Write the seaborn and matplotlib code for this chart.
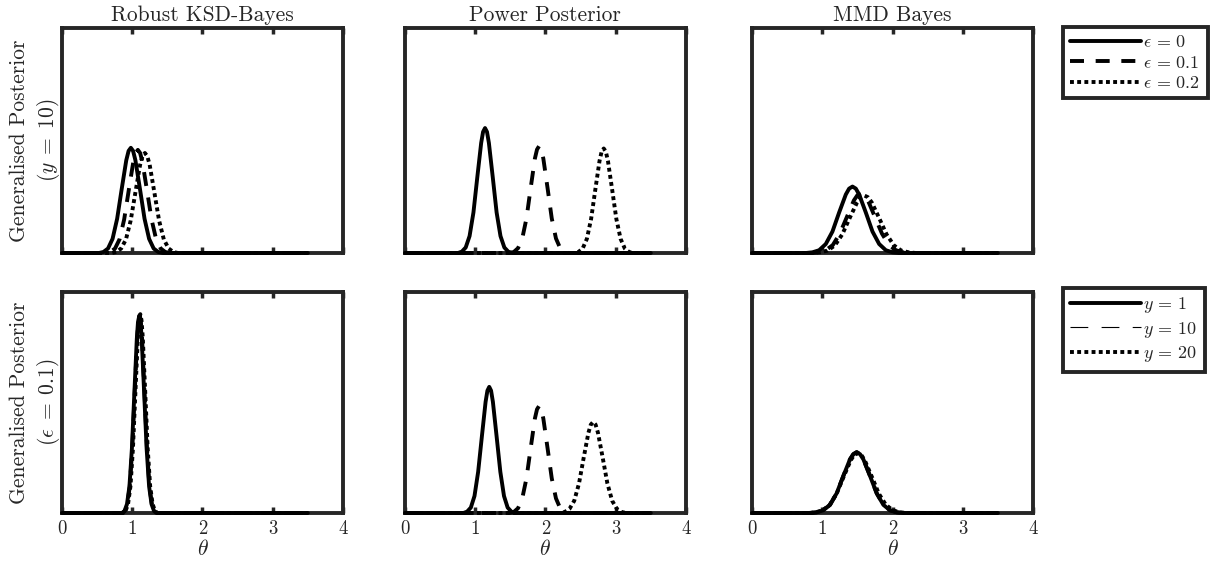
import numpy as np
import pandas as pd
import matplotlib
matplotlib.use("Agg")
import matplotlib.pyplot as plt
import seaborn as sns
from matplotlib.lines import Line2D

# values (theta, density); curve order: solid, dashed, dotted
ksd_eps_theta = [
    [0, 0.525, 0.59, 0.655, 0.72, 0.785, 0.85, 0.915, 0.948, 0.98, 1.012, 1.045, 1.11, 1.175, 1.24, 1.305, 1.37, 1.435, 3.5],
    [0, 0.625, 0.69, 0.755, 0.82, 0.885, 0.95, 1.015, 1.048, 1.08, 1.112, 1.145, 1.21, 1.275, 1.34, 1.405, 1.47, 1.535, 3.5],
    [0, 0.708, 0.775, 0.842, 0.91, 0.978, 1.045, 1.112, 1.146, 1.18, 1.214, 1.248, 1.315, 1.382, 1.45, 1.518, 1.585, 1.652, 3.5],
]
ksd_eps_dens = [
    [0, 0, 0.03, 0.13, 0.41, 0.99, 1.85, 2.68, 2.95, 3.04, 2.95, 2.68, 1.85, 0.99, 0.41, 0.13, 0.03, 0, 0],
    [0, 0, 0.03, 0.13, 0.40, 0.97, 1.81, 2.63, 2.89, 2.98, 2.89, 2.63, 1.81, 0.97, 0.40, 0.13, 0.03, 0, 0],
    [0, 0, 0.03, 0.13, 0.39, 0.94, 1.75, 2.55, 2.80, 2.89, 2.80, 2.55, 1.75, 0.94, 0.39, 0.13, 0.03, 0, 0],
]
pow_eps_theta = [
    [0, 0.755, 0.81, 0.865, 0.92, 0.975, 1.03, 1.085, 1.112, 1.14, 1.168, 1.195, 1.25, 1.305, 1.36, 1.415, 1.47, 1.525, 3.5],
    [0, 1.49, 1.55, 1.61, 1.67, 1.73, 1.79, 1.85, 1.88, 1.91, 1.94, 1.97, 2.03, 2.09, 2.15, 2.21, 2.27, 2.33, 3.5],
    [0, 2.41, 2.47, 2.53, 2.59, 2.65, 2.71, 2.77, 2.80, 2.83, 2.86, 2.89, 2.95, 3.01, 3.07, 3.13, 3.19, 3.25, 3.5],
]
pow_eps_dens = [
    [0, 0, 0.04, 0.16, 0.49, 1.17, 2.19, 3.18, 3.50, 3.61, 3.50, 3.18, 2.19, 1.17, 0.49, 0.16, 0.04, 0, 0],
    [0, 0, 0.03, 0.14, 0.42, 1.00, 1.88, 2.73, 2.99, 3.09, 2.99, 2.73, 1.88, 1.00, 0.42, 0.14, 0.03, 0, 0],
    [0, 0, 0.03, 0.13, 0.41, 0.98, 1.83, 2.66, 2.93, 3.02, 2.93, 2.66, 1.83, 0.98, 0.41, 0.13, 0.03, 0, 0],
]
mmd_eps_theta = [
    [0, 0.765, 0.86, 0.955, 1.05, 1.145, 1.24, 1.335, 1.382, 1.43, 1.478, 1.525, 1.62, 1.715, 1.81, 1.905, 2.0, 2.095, 3.5],
    [0, 0.85, 0.95, 1.05, 1.15, 1.25, 1.35, 1.45, 1.50, 1.55, 1.60, 1.65, 1.75, 1.85, 1.95, 2.05, 2.15, 2.25, 3.5],
    [0, 0.865, 0.97, 1.075, 1.18, 1.285, 1.39, 1.495, 1.548, 1.6, 1.652, 1.705, 1.81, 1.915, 2.02, 2.125, 2.23, 2.335, 3.5],
]
mmd_eps_dens = [
    [0, 0, 0.02, 0.08, 0.26, 0.62, 1.17, 1.69, 1.86, 1.92, 1.86, 1.69, 1.17, 0.62, 0.26, 0.08, 0.02, 0, 0],
    [0, 0, 0.02, 0.08, 0.23, 0.56, 1.04, 1.52, 1.67, 1.72, 1.67, 1.52, 1.04, 0.56, 0.23, 0.08, 0.02, 0, 0],
    [0, 0, 0.02, 0.07, 0.22, 0.54, 1.01, 1.46, 1.61, 1.66, 1.61, 1.46, 1.01, 0.54, 0.22, 0.07, 0.02, 0, 0],
]
ksd_y_theta = [
    [0, 0.855, 0.89, 0.925, 0.96, 0.995, 1.03, 1.065, 1.082, 1.10, 1.118, 1.135, 1.17, 1.205, 1.24, 1.275, 1.31, 1.345, 3.5],
    [0, 0.86, 0.895, 0.93, 0.965, 1.0, 1.035, 1.07, 1.088, 1.105, 1.122, 1.14, 1.175, 1.21, 1.245, 1.28, 1.315, 1.35, 3.5],
    [0, 0.87, 0.905, 0.94, 0.975, 1.01, 1.045, 1.08, 1.098, 1.115, 1.132, 1.15, 1.185, 1.22, 1.255, 1.29, 1.325, 1.36, 3.5],
]
ksd_y_dens = [
    [0, 0, 0.06, 0.26, 0.78, 1.89, 3.52, 5.12, 5.62, 5.80, 5.62, 5.12, 3.52, 1.89, 0.78, 0.26, 0.06, 0, 0],
    [0, 0, 0.06, 0.26, 0.78, 1.89, 3.53, 5.13, 5.64, 5.82, 5.64, 5.13, 3.53, 1.89, 0.78, 0.26, 0.06, 0, 0],
    [0, 0, 0.06, 0.26, 0.79, 1.90, 3.55, 5.16, 5.67, 5.85, 5.67, 5.16, 3.55, 1.90, 0.79, 0.26, 0.06, 0, 0],
]
pow_y_theta = [
    [0, 0.832, 0.885, 0.938, 0.99, 1.042, 1.095, 1.148, 1.174, 1.20, 1.226, 1.252, 1.305, 1.358, 1.41, 1.462, 1.515, 1.568, 3.5],
    [0, 1.49, 1.55, 1.61, 1.67, 1.73, 1.79, 1.85, 1.88, 1.91, 1.94, 1.97, 2.03, 2.09, 2.15, 2.21, 2.27, 2.33, 3.5],
    [0, 2.208, 2.275, 2.342, 2.41, 2.478, 2.545, 2.612, 2.646, 2.68, 2.714, 2.748, 2.815, 2.882, 2.95, 3.018, 3.085, 3.152, 3.5],
]
pow_y_dens = [
    [0, 0, 0.04, 0.16, 0.50, 1.21, 2.25, 3.27, 3.60, 3.71, 3.60, 3.27, 2.25, 1.21, 0.50, 0.16, 0.04, 0, 0],
    [0, 0, 0.03, 0.14, 0.43, 1.02, 1.91, 2.78, 3.05, 3.15, 3.05, 2.78, 1.91, 1.02, 0.43, 0.14, 0.03, 0, 0],
    [0, 0, 0.03, 0.12, 0.36, 0.87, 1.63, 2.36, 2.60, 2.68, 2.60, 2.36, 1.63, 0.87, 0.36, 0.12, 0.03, 0, 0],
]
mmd_y_theta = [
    [0, 0.825, 0.92, 1.015, 1.11, 1.205, 1.30, 1.395, 1.442, 1.49, 1.538, 1.585, 1.68, 1.775, 1.87, 1.965, 2.06, 2.155, 3.5],
    [0, 0.825, 0.92, 1.015, 1.11, 1.205, 1.30, 1.395, 1.442, 1.49, 1.538, 1.585, 1.68, 1.775, 1.87, 1.965, 2.06, 2.155, 3.5],
    [0, 0.805, 0.905, 1.005, 1.105, 1.205, 1.305, 1.405, 1.455, 1.505, 1.555, 1.605, 1.705, 1.805, 1.905, 2.005, 2.105, 2.205, 3.5],
]
mmd_y_dens = [
    [0, 0, 0.02, 0.08, 0.24, 0.58, 1.09, 1.58, 1.73, 1.79, 1.73, 1.58, 1.09, 0.58, 0.24, 0.08, 0.02, 0, 0],
    [0, 0, 0.02, 0.08, 0.24, 0.58, 1.09, 1.58, 1.73, 1.79, 1.73, 1.58, 1.09, 0.58, 0.24, 0.08, 0.02, 0, 0],
    [0, 0, 0.02, 0.08, 0.24, 0.57, 1.07, 1.55, 1.71, 1.76, 1.71, 1.55, 1.07, 0.57, 0.24, 0.08, 0.02, 0, 0],
]

titles = ["Robust KSD-Bayes", "Power Posterior", "MMD Bayes"]
row_labels = ["Generalised Posterior\n$(y \\;=\\; 10)$", "Generalised Posterior\n$(\\epsilon \\;=\\; 0.1)$"]
eps_labels = ["$\\epsilon \\,=\\, 0$", "$\\epsilon \\,=\\, 0.1$", "$\\epsilon \\,=\\, 0.2$"]
y_labels = ["$y \\,=\\, 1$", "$y \\,=\\, 10$", "$y \\,=\\, 20$"]
x_ticks = [0, 1, 2, 3, 4]

sns.set_style("white")
plt.rcParams['font.family'] = 'serif'
plt.rcParams['font.serif'] = ['cmr10']
plt.rcParams['mathtext.fontset'] = 'cm'
plt.rcParams['axes.formatter.use_mathtext'] = True

edge = '#262626'
lw = 2.8
styles = ['-', (0, (3.6, 3.0)), (0, (1.0, 0.85))]

fig = plt.figure(figsize=(12.11, 5.63), dpi=100)
lefts = [0.0512, 0.3344, 0.621]
rows = [(0.5506, 0.3996), (0.0888, 0.3925)]
axes = [[fig.add_axes([l, b, 0.232, h]) for l in lefts] for b, h in rows]

panel_data = [
    [(ksd_eps_theta, ksd_eps_dens), (pow_eps_theta, pow_eps_dens), (mmd_eps_theta, mmd_eps_dens)],
    [(ksd_y_theta, ksd_y_dens), (pow_y_theta, pow_y_dens), (mmd_y_theta, mmd_y_dens)],
]

for r in range(2):
    for c in range(3):
        ax = axes[r][c]
        thetas, dens = panel_data[r][c]
        for k in range(3):
            df = pd.DataFrame({'theta': thetas[k], 'density': dens[k]})
            sns.lineplot(data=df, x='theta', y='density', ax=ax, color='black',
                         lw=lw, linestyle=styles[k], clip_on=False, zorder=3)
        ax.set_xlim(0, 4)
        ax.set_ylim(0, 6.5)
        ax.set_xticks(x_ticks)
        ax.set_yticks([])
        ax.tick_params(axis='x', direction='in', top=True, bottom=True, length=4,
                       width=2.5, color=edge, labelsize=13.5, pad=5)
        for s in ax.spines.values():
            s.set_linewidth(lw)
            s.set_color(edge)
        if r == 0:
            ax.set_title(titles[c], fontsize=15.5, pad=5)
            ax.set_xticklabels([])
            ax.set_xlabel('')
        else:
            ax.set_xticklabels([str(t) for t in x_ticks])
            ax.set_xlabel('$\\theta$', fontsize=15.5, labelpad=1)
        if c == 0:
            ax.set_ylabel(row_labels[r], fontsize=15.5, labelpad=0, linespacing=1.3)
        else:
            ax.set_ylabel('')

h_top = [Line2D([], [], color='black', lw=lw, linestyle=s) for s in styles]
h_bot = [Line2D([], [], color='black', lw=lw, linestyle=styles[0]),
         Line2D([], [], color='black', lw=0.8, linestyle=(0, (16, 12))),
         Line2D([], [], color='black', lw=lw, linestyle=styles[2])]

for ax, handles, labels, anchor in [(axes[0][2], h_top, eps_labels, (1.107, 1.005)),
                                    (axes[1][2], h_bot, y_labels, (1.107, 1.018))]:
    leg = ax.legend(handles, labels, loc='upper left', bbox_to_anchor=anchor,
                    frameon=True, fancybox=False, framealpha=1, edgecolor=edge,
                    fontsize=13, handlelength=3.9, handletextpad=0.15,
                    borderpad=0.4, labelspacing=0.25, borderaxespad=0)
    leg.get_frame().set_linewidth(lw)

fig.savefig("out.png", dpi=100)
